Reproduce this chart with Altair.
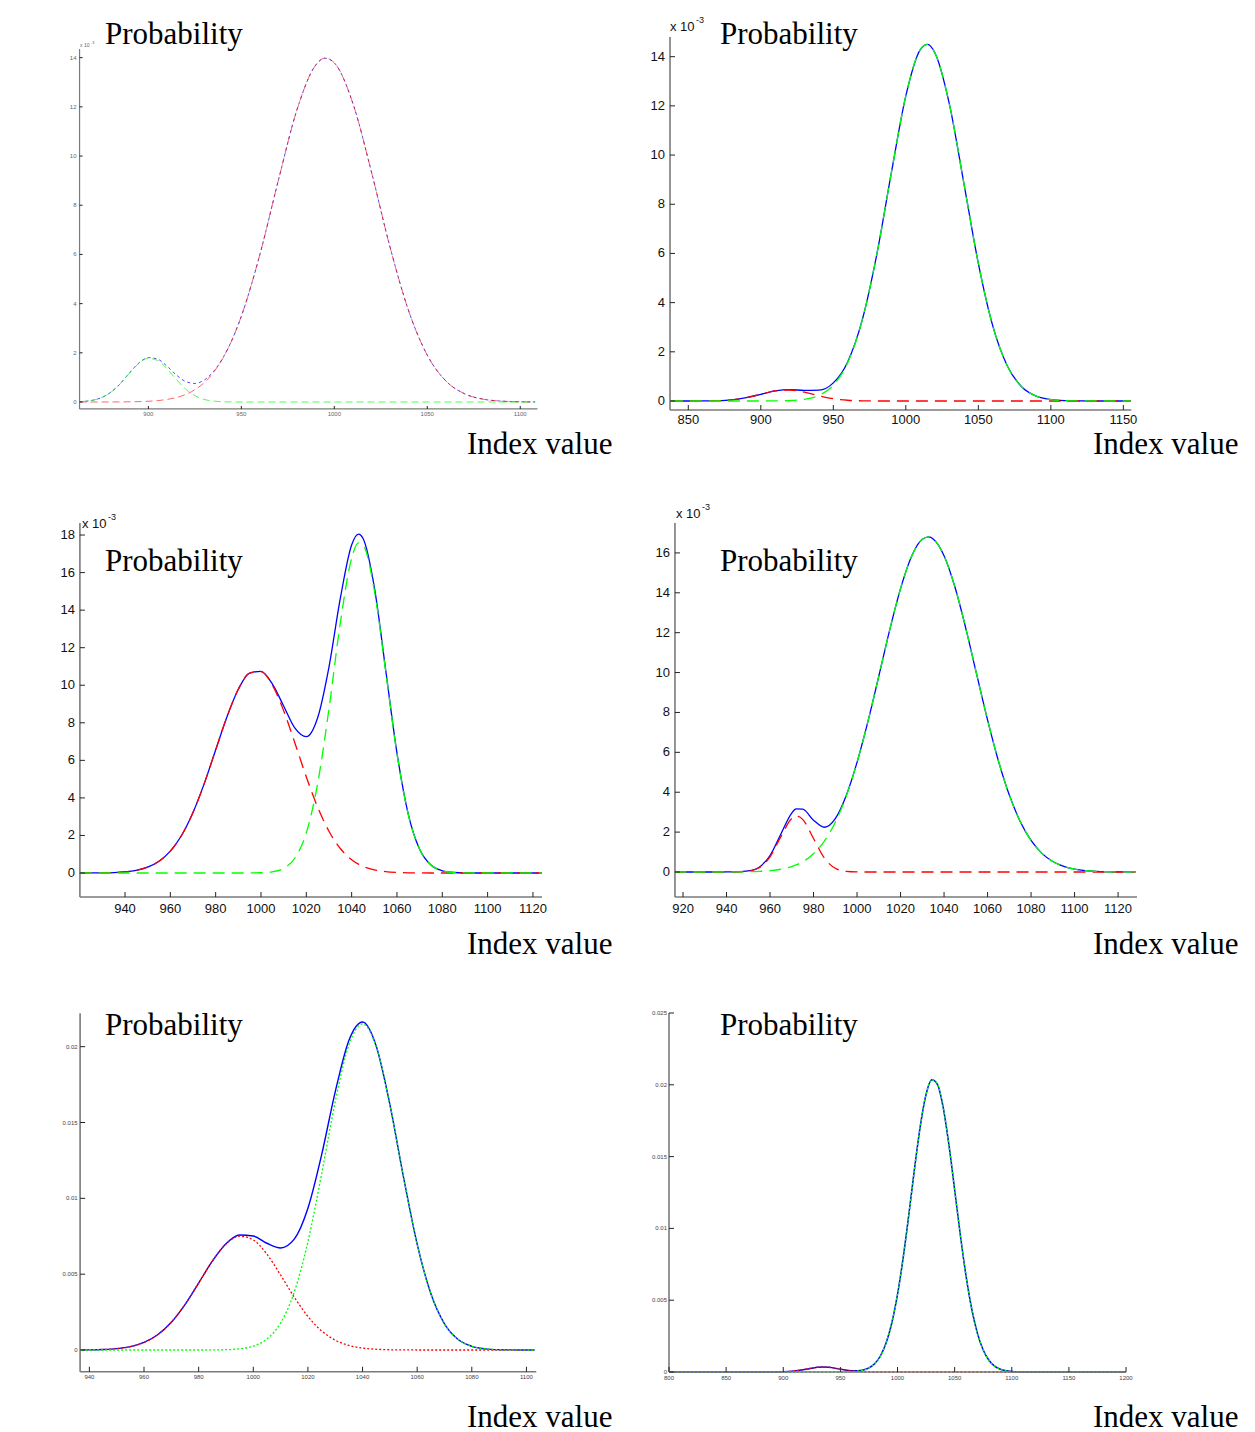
import altair as alt
import pandas as pd

# ---------------- data (values in units of 1e-3) ----------------
# Panel 1 (top-left)
P1_X = [863, 870, 875, 880, 885, 890, 895, 900, 905, 910, 915, 920, 925, 930, 935, 940, 945,
        950, 960, 970, 980, 990, 995, 1000, 1010, 1020, 1030, 1040, 1050, 1060, 1070, 1080, 1090, 1100, 1108]
P1_RED = [0, 0, 0.001, 0.002, 0.004, 0.008, 0.016, 0.031, 0.057, 0.104, 0.181, 0.305, 0.498, 0.786, 1.199, 1.771, 2.526,
          3.487, 6.003, 9.038, 11.90, 13.70, 13.98, 13.79, 12.14, 9.346, 6.290, 3.703, 1.905, 0.857, 0.337, 0.116, 0.035, 0.009, 0.002]
P1_GREEN = [0.015, 0.070, 0.184, 0.405, 0.753, 1.186, 1.577, 1.774, 1.687, 1.356, 0.922, 0.529, 0.257, 0.106, 0.037, 0.011, 0.003,
            0, 0, 0, 0, 0, 0, 0, 0, 0, 0, 0, 0, 0, 0, 0, 0, 0, 0]
P1_BLUE = [0.015, 0.070, 0.185, 0.407, 0.757, 1.194, 1.593, 1.805, 1.744, 1.460, 1.103, 0.834, 0.755, 0.892, 1.236, 1.782, 2.529,
           3.487, 6.003, 9.038, 11.90, 13.70, 13.98, 13.79, 12.14, 9.346, 6.290, 3.703, 1.905, 0.857, 0.337, 0.116, 0.035, 0.009, 0.002]

# Panel 2 (top-right)
P2_X = [838, 850, 860, 870, 880, 890, 900, 910, 920, 930, 940, 950, 960, 970, 980, 990,
        1000, 1010, 1015, 1020, 1030, 1040, 1050, 1060, 1070, 1080, 1090, 1100, 1110, 1120, 1130, 1140, 1155]
P2_RED = [0, 0, 0.003, 0.013, 0.048, 0.134, 0.273, 0.408, 0.447, 0.360, 0.213, 0.093, 0.030, 0.007, 0.001, 0,
          0, 0, 0, 0, 0, 0, 0, 0, 0, 0, 0, 0, 0, 0, 0, 0, 0]
P2_GREEN = [0, 0, 0, 0, 0, 0, 0.001, 0.004, 0.018, 0.069, 0.227, 0.644, 1.570, 3.299, 5.961, 9.271,
            12.41, 14.29, 14.50, 14.16, 12.08, 8.862, 5.597, 3.042, 1.422, 0.572, 0.198, 0.059, 0.015, 0.003, 0, 0, 0]
P2_BLUE = [0, 0, 0.003, 0.013, 0.048, 0.134, 0.274, 0.412, 0.465, 0.429, 0.440, 0.737, 1.600, 3.306, 5.962, 9.271,
           12.41, 14.29, 14.50, 14.16, 12.08, 8.862, 5.597, 3.042, 1.422, 0.572, 0.198, 0.059, 0.015, 0.003, 0, 0, 0]

# Panel 3 (middle-left)
P3_X = [920, 925, 930, 935, 940, 945, 950, 955, 960, 965, 970, 975, 980, 985, 990, 995, 1000, 1005, 1010, 1015,
        1020, 1025, 1030, 1035, 1040, 1043, 1045, 1050, 1055, 1060, 1065, 1070, 1075, 1080, 1085, 1090, 1095,
        1100, 1105, 1110, 1115, 1120, 1124]
P3_RED = [0.001, 0.003, 0.009, 0.024, 0.060, 0.142, 0.309, 0.623, 1.163, 2.011, 3.221, 4.774, 6.551, 8.320, 9.785, 10.65,
          10.73, 10.01, 8.648, 6.914, 5.117, 3.507, 2.224, 1.305, 0.710, 0.474, 0.357, 0.166, 0.072, 0.029, 0.011, 0.004,
          0.001, 0, 0, 0, 0, 0, 0, 0, 0, 0, 0]
P3_GREEN = [0, 0, 0, 0, 0, 0, 0, 0, 0, 0, 0, 0, 0, 0, 0, 0.002, 0.013, 0.063, 0.247, 0.799, 2.142, 4.759, 8.745, 13.31,
            16.76, 17.58, 17.47, 15.07, 10.77, 6.366, 3.117, 1.262, 0.423, 0.117, 0.027, 0.005, 0, 0, 0, 0, 0, 0, 0]
P3_BLUE = [0.001, 0.003, 0.009, 0.024, 0.060, 0.142, 0.309, 0.623, 1.163, 2.011, 3.221, 4.774, 6.551, 8.320, 9.785, 10.65,
           10.74, 10.07, 8.895, 7.713, 7.259, 8.266, 10.97, 14.62, 17.47, 18.05, 17.83, 15.24, 10.84, 6.395, 3.128, 1.266,
           0.424, 0.117, 0.027, 0.005, 0, 0, 0, 0, 0, 0, 0]

# Panel 4 (middle-right)
P4_X = [916, 920, 925, 930, 935, 940, 945, 950, 955, 960, 965, 970, 972, 975, 980, 985, 990, 995, 1000, 1005, 1010,
        1015, 1020, 1025, 1030, 1033, 1035, 1040, 1045, 1050, 1055, 1060, 1065, 1070, 1075, 1080, 1085, 1090, 1095,
        1100, 1105, 1110, 1115, 1120, 1125, 1128]
P4_RED = [0, 0, 0, 0, 0, 0, 0.004, 0.038, 0.210, 0.758, 1.771, 2.684, 2.81, 2.638, 1.682, 0.695, 0.187, 0.032, 0.004,
          0, 0, 0, 0, 0, 0, 0, 0, 0, 0, 0, 0, 0, 0, 0, 0, 0, 0, 0, 0, 0, 0, 0, 0, 0, 0, 0]
P4_GREEN = [0, 0, 0, 0, 0, 0.002, 0.005, 0.013, 0.030, 0.066, 0.137, 0.272, 0.353, 0.512, 0.914, 1.549, 2.490, 3.795,
            5.492, 7.538, 9.816, 12.13, 14.21, 15.81, 16.68, 16.80, 16.70, 15.86, 14.29, 12.22, 9.909, 7.626, 5.568,
            3.856, 2.535, 1.580, 0.934, 0.525, 0.279, 0.141, 0.068, 0.031, 0.013, 0.005, 0.002, 0.001]
P4_BLUE = [0, 0, 0, 0, 0, 0.002, 0.009, 0.051, 0.240, 0.824, 1.908, 2.956, 3.163, 3.150, 2.596, 2.244, 2.677, 3.827,
           5.496, 7.538, 9.816, 12.13, 14.21, 15.81, 16.68, 16.80, 16.70, 15.86, 14.29, 12.22, 9.909, 7.626, 5.568,
           3.856, 2.535, 1.580, 0.934, 0.525, 0.279, 0.141, 0.068, 0.031, 0.013, 0.005, 0.002, 0.001]

# Panel 5 (bottom-left)
P5_X = [937, 940, 945, 950, 955, 960, 965, 970, 975, 980, 985, 990, 995, 1000, 1005, 1010, 1015, 1020, 1025, 1030,
        1035, 1040, 1045, 1050, 1055, 1060, 1065, 1070, 1075, 1080, 1085, 1090, 1095, 1100, 1103]
P5_RED = [0.005, 0.010, 0.032, 0.089, 0.221, 0.497, 1.005, 1.828, 2.994, 4.414, 5.854, 6.988, 7.507, 7.258, 6.315,
          4.945, 3.485, 2.210, 1.262, 0.648, 0.300, 0.125, 0.047, 0.016, 0.005, 0.001, 0, 0, 0, 0, 0, 0, 0, 0, 0]
P5_GREEN = [0, 0, 0, 0, 0, 0, 0, 0, 0, 0, 0.005, 0.021, 0.078, 0.255, 0.723, 1.783, 3.822, 7.136, 11.59, 16.37,
            20.11, 21.50, 20.00, 16.18, 11.39, 6.981, 3.722, 1.725, 0.696, 0.244, 0.075, 0.020, 0.005, 0.001, 0]
P5_BLUE = [0.005, 0.010, 0.032, 0.089, 0.221, 0.497, 1.005, 1.828, 2.994, 4.414, 5.859, 7.009, 7.585, 7.513, 7.038,
           6.728, 7.307, 9.346, 12.85, 17.02, 20.41, 21.63, 20.05, 16.20, 11.40, 6.982, 3.722, 1.725, 0.696, 0.244,
           0.075, 0.020, 0.005, 0.001, 0]

# Panel 6 (bottom-right)
P6_X = [800, 850, 880, 890, 900, 910, 920, 930, 935, 940, 950, 960, 965, 970, 975, 980, 985, 990, 995,
        1000, 1005, 1010, 1015, 1020, 1025, 1030, 1035, 1040, 1045, 1050, 1055, 1060, 1065, 1070, 1075, 1080,
        1085, 1090, 1095, 1100, 1105, 1110, 1120, 1150, 1200]
P6_RED = [0, 0, 0, 0.002, 0.015, 0.071, 0.197, 0.328, 0.350, 0.328, 0.197, 0.071, 0.035, 0.015, 0.006, 0.002, 0, 0, 0,
          0, 0, 0, 0, 0, 0, 0, 0, 0, 0, 0, 0, 0, 0, 0, 0, 0, 0, 0, 0, 0, 0, 0, 0, 0, 0]
P6_GREEN = [0, 0, 0, 0, 0, 0, 0, 0, 0, 0, 0.003, 0.021, 0.052, 0.125, 0.277, 0.574, 1.114, 2.018, 3.415,
            5.402, 7.983, 11.02, 14.23, 17.16, 19.33, 20.35, 20.02, 18.41, 15.81, 12.69, 9.523, 6.675, 4.370, 2.674,
            1.530, 0.818, 0.408, 0.191, 0.083, 0.034, 0.013, 0.005, 0, 0, 0]
P6_BLUE = [0, 0, 0, 0.002, 0.015, 0.071, 0.197, 0.328, 0.350, 0.328, 0.200, 0.092, 0.087, 0.140, 0.283, 0.576, 1.114,
           2.018, 3.415, 5.402, 7.983, 11.02, 14.23, 17.16, 19.33, 20.35, 20.02, 18.41, 15.81, 12.69, 9.523, 6.675,
           4.370, 2.674, 1.530, 0.818, 0.408, 0.191, 0.083, 0.034, 0.013, 0.005, 0, 0, 0]

# tick values and their labels
P1_XT = [900, 950, 1000, 1050, 1100]
P1_XL = ["900", "950", "1000", "1050", "1100"]
P1_YT = [0, 2, 4, 6, 8, 10, 12, 14]
P1_YL = ["0", "2", "4", "6", "8", "10", "12", "14"]
P2_XT = [850, 900, 950, 1000, 1050, 1100, 1150]
P2_XL = ["850", "900", "950", "1000", "1050", "1100", "1150"]
P2_YT = [0, 2, 4, 6, 8, 10, 12, 14]
P2_YL = ["0", "2", "4", "6", "8", "10", "12", "14"]
P3_XT = [940, 960, 980, 1000, 1020, 1040, 1060, 1080, 1100, 1120]
P3_XL = ["940", "960", "980", "1000", "1020", "1040", "1060", "1080", "1100", "1120"]
P3_YT = [0, 2, 4, 6, 8, 10, 12, 14, 16, 18]
P3_YL = ["0", "2", "4", "6", "8", "10", "12", "14", "16", "18"]
P4_XT = [920, 940, 960, 980, 1000, 1020, 1040, 1060, 1080, 1100, 1120]
P4_XL = ["920", "940", "960", "980", "1000", "1020", "1040", "1060", "1080", "1100", "1120"]
P4_YT = [0, 2, 4, 6, 8, 10, 12, 14, 16]
P4_YL = ["0", "2", "4", "6", "8", "10", "12", "14", "16"]
P5_XT = [940, 960, 980, 1000, 1020, 1040, 1060, 1080, 1100]
P5_XL = ["940", "960", "980", "1000", "1020", "1040", "1060", "1080", "1100"]
P5_YT = [0, 5, 10, 15, 20]
P5_YL = ["0", "0.005", "0.01", "0.015", "0.02"]
P6_XT = [800, 850, 900, 950, 1000, 1050, 1100, 1150, 1200]
P6_XL = ["800", "850", "900", "950", "1000", "1050", "1100", "1150", "1200"]
P6_YT = [0, 5, 10, 15, 20, 25]
P6_YL = ["0", "0.005", "0.01", "0.015", "0.02", "0.025"]

PROB = "Probability"
INDEX = "Index value"

# ---------------- styling ----------------
SERIF = "Liberation Serif"
SANS = "Liberation Sans"
BLUE, RED, GREEN = "#0000ff", "#ff0000", "#00ff00"
AXIS_COLOR = "#7a7a7a"
TICK_COLOR = "#222222"

ONE = pd.DataFrame({"a": [0]})


def text_layer(txt, x, y, size, font, color="black"):
    return alt.Chart(pd.DataFrame({"t": [txt]})).mark_text(
        align="left", baseline="alphabetic", font=font, fontSize=size, color=color
    ).encode(text="t:N", x=alt.value(x), y=alt.value(y))


def panel(cfg):
    xs = alt.Scale(domain=cfg["xdom"], nice=False, zero=False)
    ys = alt.Scale(domain=cfg["ydom"], nice=False, zero=False)
    fs = cfg["fs"]
    lc = cfg["lc"]
    xl, xh = cfg["xspan"]
    yl, yh = cfg["yspan"]

    def XD(v):
        return alt.XDatum(v, type="quantitative", scale=xs, axis=None)

    def YD(v):
        return alt.YDatum(v, type="quantitative", scale=ys, axis=None)

    layers = []
    for key in ["blue", "red", "green"]:
        st = cfg["styles"][key]
        df = pd.DataFrame({"x": cfg["x"], "v": cfg[key]})
        props = dict(color=st["color"], strokeWidth=st["w"], interpolate="monotone",
                     opacity=st.get("op", 1.0))
        if st.get("dash"):
            props["strokeDash"] = st["dash"]
        layers.append(
            alt.Chart(df).mark_line(**props).encode(
                x=alt.X("x:Q", scale=xs, axis=None),
                y=alt.Y("v:Q", scale=ys, axis=None),
            )
        )

    aw = cfg["aw"]
    # axis lines
    layers.append(alt.Chart(ONE).mark_rule(color=AXIS_COLOR, strokeWidth=aw).encode(
        x=XD(xl), y=YD(yl), y2=alt.Y2Datum(yh)))
    layers.append(alt.Chart(ONE).mark_rule(color=AXIS_COLOR, strokeWidth=aw).encode(
        x=XD(xl), x2=alt.X2Datum(xh), y=YD(yl)))
    # inward ticks
    tl = cfg["tl"]
    layers.append(alt.Chart(pd.DataFrame({"t": cfg["xt"]})).mark_tick(
        orient="vertical", size=tl, thickness=1, color=TICK_COLOR, yOffset=-tl / 2, opacity=1
    ).encode(x=alt.X("t:Q", scale=xs, axis=None), y=YD(yl)))
    layers.append(alt.Chart(pd.DataFrame({"t": cfg["yt"]})).mark_tick(
        orient="horizontal", size=tl, thickness=1, color=TICK_COLOR, xOffset=tl / 2, opacity=1
    ).encode(y=alt.Y("t:Q", scale=ys, axis=None), x=XD(xl)))
    # tick labels
    layers.append(alt.Chart(pd.DataFrame({"t": cfg["xt"], "lab": cfg["xlab"]})).mark_text(
        align="center", baseline="top", font=SANS, fontSize=fs, color=lc, dy=cfg["xdy"]
    ).encode(x=alt.X("t:Q", scale=xs, axis=None), y=YD(yl), text="lab:N"))
    layers.append(alt.Chart(pd.DataFrame({"t": cfg["yt"], "lab": cfg["ylab"]})).mark_text(
        align="right", baseline="middle", font=SANS, fontSize=fs, color=lc, dx=cfg["ydx"]
    ).encode(y=alt.Y("t:Q", scale=ys, axis=None), x=XD(xl), text="lab:N"))

    # titles / annotations
    px, py = cfg["prob"]
    ix, iy = cfg["index"]
    layers.append(text_layer(PROB, px, py, 31, SERIF))
    layers.append(text_layer(INDEX, ix, iy, 31, SERIF))
    for (t, x, y, s) in cfg.get("exp", []):
        layers.append(text_layer(t, x, y, s, SANS, lc))
    if cfg.get("anchor"):
        ax, ay = cfg["anchor"]
        layers.append(alt.Chart(ONE).mark_rule(opacity=0, strokeOpacity=0).encode(
            x=alt.value(ax), x2=alt.value(ax + 1), y=alt.value(ay), y2=alt.value(ay + 1)))
    return alt.layer(*layers).properties(width=cfg["w"], height=cfg["h"])


dash_style = {
    "blue": {"color": BLUE, "w": 1.3},
    "red": {"color": RED, "w": 1.3, "dash": [12, 7]},
    "green": {"color": GREEN, "w": 1.3, "dash": [12, 7]},
}
thin_style = {
    "blue": {"color": BLUE, "w": 1.0, "dash": [3, 3], "op": 0.7},
    "red": {"color": RED, "w": 1.0, "dash": [7, 4], "op": 0.6},
    "green": {"color": GREEN, "w": 1.0, "dash": [7, 4], "op": 0.7},
}
dot_style = {
    "blue": {"color": BLUE, "w": 1.4},
    "red": {"color": RED, "w": 1.3, "dash": [2, 2]},
    "green": {"color": GREEN, "w": 1.3, "dash": [2, 2]},
}

cfgs = [
    dict(x=P1_X, red=P1_RED, green=P1_GREEN, blue=P1_BLUE, xt=P1_XT, yt=P1_YT, xlab=P1_XL, ylab=P1_YL,
         xdom=[862.7, 1111.7], ydom=[-0.325, 14.84], xspan=[863, 1109.3], yspan=[-0.28, 14.35],
         w=463, h=373, fs=6, lc="#666666", xdy=2, ydx=-3, tl=3, aw=1.2, styles=thin_style,
         prob=(26, 7), index=(388, 417), exp=[("x 10", 1, 10, 5), ("-3", 12, 7, 4)], anchor=(-71, -29)),
    dict(x=P2_X, red=P2_RED, green=P2_GREEN, blue=P2_BLUE, xt=P2_XT, yt=P2_YT, xlab=P2_XL, ylab=P2_YL,
         xdom=[836.7, 1159.4], ydom=[-0.366, 14.80], xspan=[837.4, 1155.5], yspan=[-0.366, 14.8],
         w=468, h=373, fs=13, lc="#111111", xdy=4, ydx=-5, tl=5, aw=1.6, styles=dash_style,
         prob=(51, 7), index=(424, 417), exp=[("x 10", 1, -6, 13), ("-3", 27, -14, 9)]),
    dict(x=P3_X, red=P3_RED, green=P3_GREEN, blue=P3_BLUE, xt=P3_XT, yt=P3_YT, xlab=P3_XL, ylab=P3_YL,
         xdom=[919.7, 1124.0], ydom=[-1.597, 18.80], xspan=[920.1, 1124], yspan=[-1.278, 18.64],
         w=463, h=383, fs=13, lc="#111111", xdy=6, ydx=-5, tl=5, aw=1.6, styles=dash_style,
         prob=(26, 51), index=(388, 434), exp=[("x 10", 3, 8, 13), ("-3", 29, 0, 9)]),
    dict(x=P4_X, red=P4_RED, green=P4_GREEN, blue=P4_BLUE, xt=P4_XT, yt=P4_YT, xlab=P4_XL, ylab=P4_YL,
         xdom=[913.56, 1128.7], ydom=[-1.555, 17.65], xspan=[916.3, 1128.7], yspan=[-1.254, 17.5],
         w=468, h=383, fs=13, lc="#111111", xdy=6, ydx=-5, tl=5, aw=1.6, styles=dash_style,
         prob=(51, 51), index=(424, 434), exp=[("x 10", 7, -2, 13), ("-3", 33, -10, 9)]),
    dict(x=P5_X, red=P5_RED, green=P5_GREEN, blue=P5_BLUE, xt=P5_XT, yt=P5_YT, xlab=P5_XL, ylab=P5_YL,
         xdom=[936.2, 1105.7], ydom=[-1.517, 22.22], xspan=[936.6, 1103.6], yspan=[-1.43, 22.2],
         w=463, h=360, fs=6, lc="#444444", xdy=2.5, ydx=-2.5, tl=5, aw=1.6, styles=dot_style,
         prob=(26, 22), index=(388, 414)),
    dict(x=P6_X, red=P6_RED, green=P6_GREEN, blue=P6_BLUE, xt=P6_XT, yt=P6_YT, xlab=P6_XL, ylab=P6_YL,
         xdom=[800, 1209.6], ydom=[-0.0696, 25.0], xspan=[800, 1200], yspan=[0, 25],
         w=468, h=360, fs=6, lc="#444444", xdy=2.5, ydx=-2, tl=5, aw=1.6,
         styles={"blue": {"color": BLUE, "w": 1.5},
                 "red": {"color": RED, "w": 1.4, "dash": [2, 2]},
                 "green": {"color": GREEN, "w": 1.4, "dash": [2, 2]}},
         prob=(51, 22), index=(424, 414)),
]

panels = [panel(c) for c in cfgs]

chart = alt.concat(
    *panels, columns=2, spacing={"row": 110, "column": 127}, bounds="flush"
).properties(
    padding={"left": 0, "top": 0, "right": 5, "bottom": 5},
    background="white",
).configure_view(stroke=None)

chart.save("out.html", embed_options={"renderer": "svg", "actions": False})
